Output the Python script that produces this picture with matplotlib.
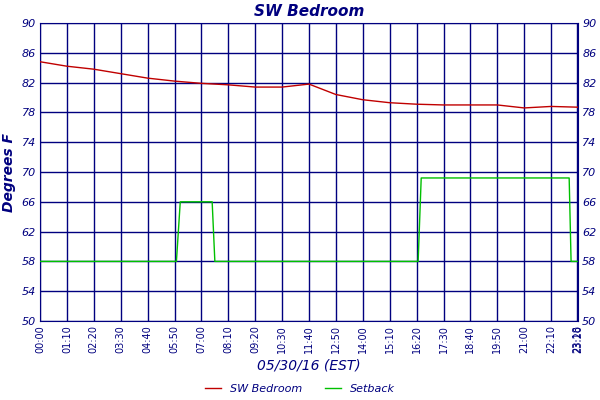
import matplotlib
matplotlib.use("Agg")
import matplotlib.pyplot as plt

temp_min = [0,70,140,210,280,350,420,490,560,630,700,770,840,910,980,1050,1120,1190,1260,1330,1400]
temp_val = [84.8,84.2,83.8,83.2,82.6,82.2,81.9,81.7,81.4,81.4,81.8,80.4,79.7,79.3,79.1,79.0,79.0,79.0,78.6,78.8,78.7]
set_min = [0,355,365,448,455,984,992,1377,1382,1400]
set_val = [58,58,66,66,58,58,69.2,69.2,58,58]
xticks = list(range(0,1331,70)) + [1398,1400]
xlabels = [f"{m//60:02d}:{m%60:02d}" for m in xticks]
yticks = list(range(50,91,4))
navy = "#00007f"

fig = plt.figure(figsize=(6,4), dpi=100)
ax = fig.add_axes([40/600, 1-321/400, 538/600, 298/400])
ax.set_axisbelow(True)
l1, = ax.plot(temp_min, temp_val, color="#c00000", lw=1, zorder=3)
l2, = ax.plot(set_min, set_val, color="#00c000", lw=1, zorder=3)
ax.set_xlim(0,1400); ax.set_ylim(50,90)
ax.set_xticks(xticks); ax.set_xticklabels(xlabels, rotation=90, fontsize=7, color=navy)
ax.set_yticks(yticks); ax.set_yticklabels([str(v) for v in yticks], fontsize=8, color=navy, style="italic")
ax.tick_params(length=0, right=True, labelright=True, pad=3)
ax.grid(True, color=navy, lw=1)
for s in ax.spines.values(): s.set_color(navy)
ax.set_title("SW Bedroom", color=navy, style="italic", fontweight="bold", fontsize=11, pad=5)
ax.set_ylabel("Degrees F", color=navy, style="italic", fontweight="bold", fontsize=10)
ax.set_xlabel("05/30/16 (EST)", color=navy, style="italic", fontsize=10)
leg = fig.legend(handles=[l1, l2], labels=["SW Bedroom","Setback"], loc="lower center",
                 ncol=2, frameon=False, fontsize=8, bbox_to_anchor=(0.5, -0.01), handlelength=1.5)
for t in leg.get_texts(): t.set_color(navy); t.set_style("italic")
fig.savefig("out.png", dpi=100)
